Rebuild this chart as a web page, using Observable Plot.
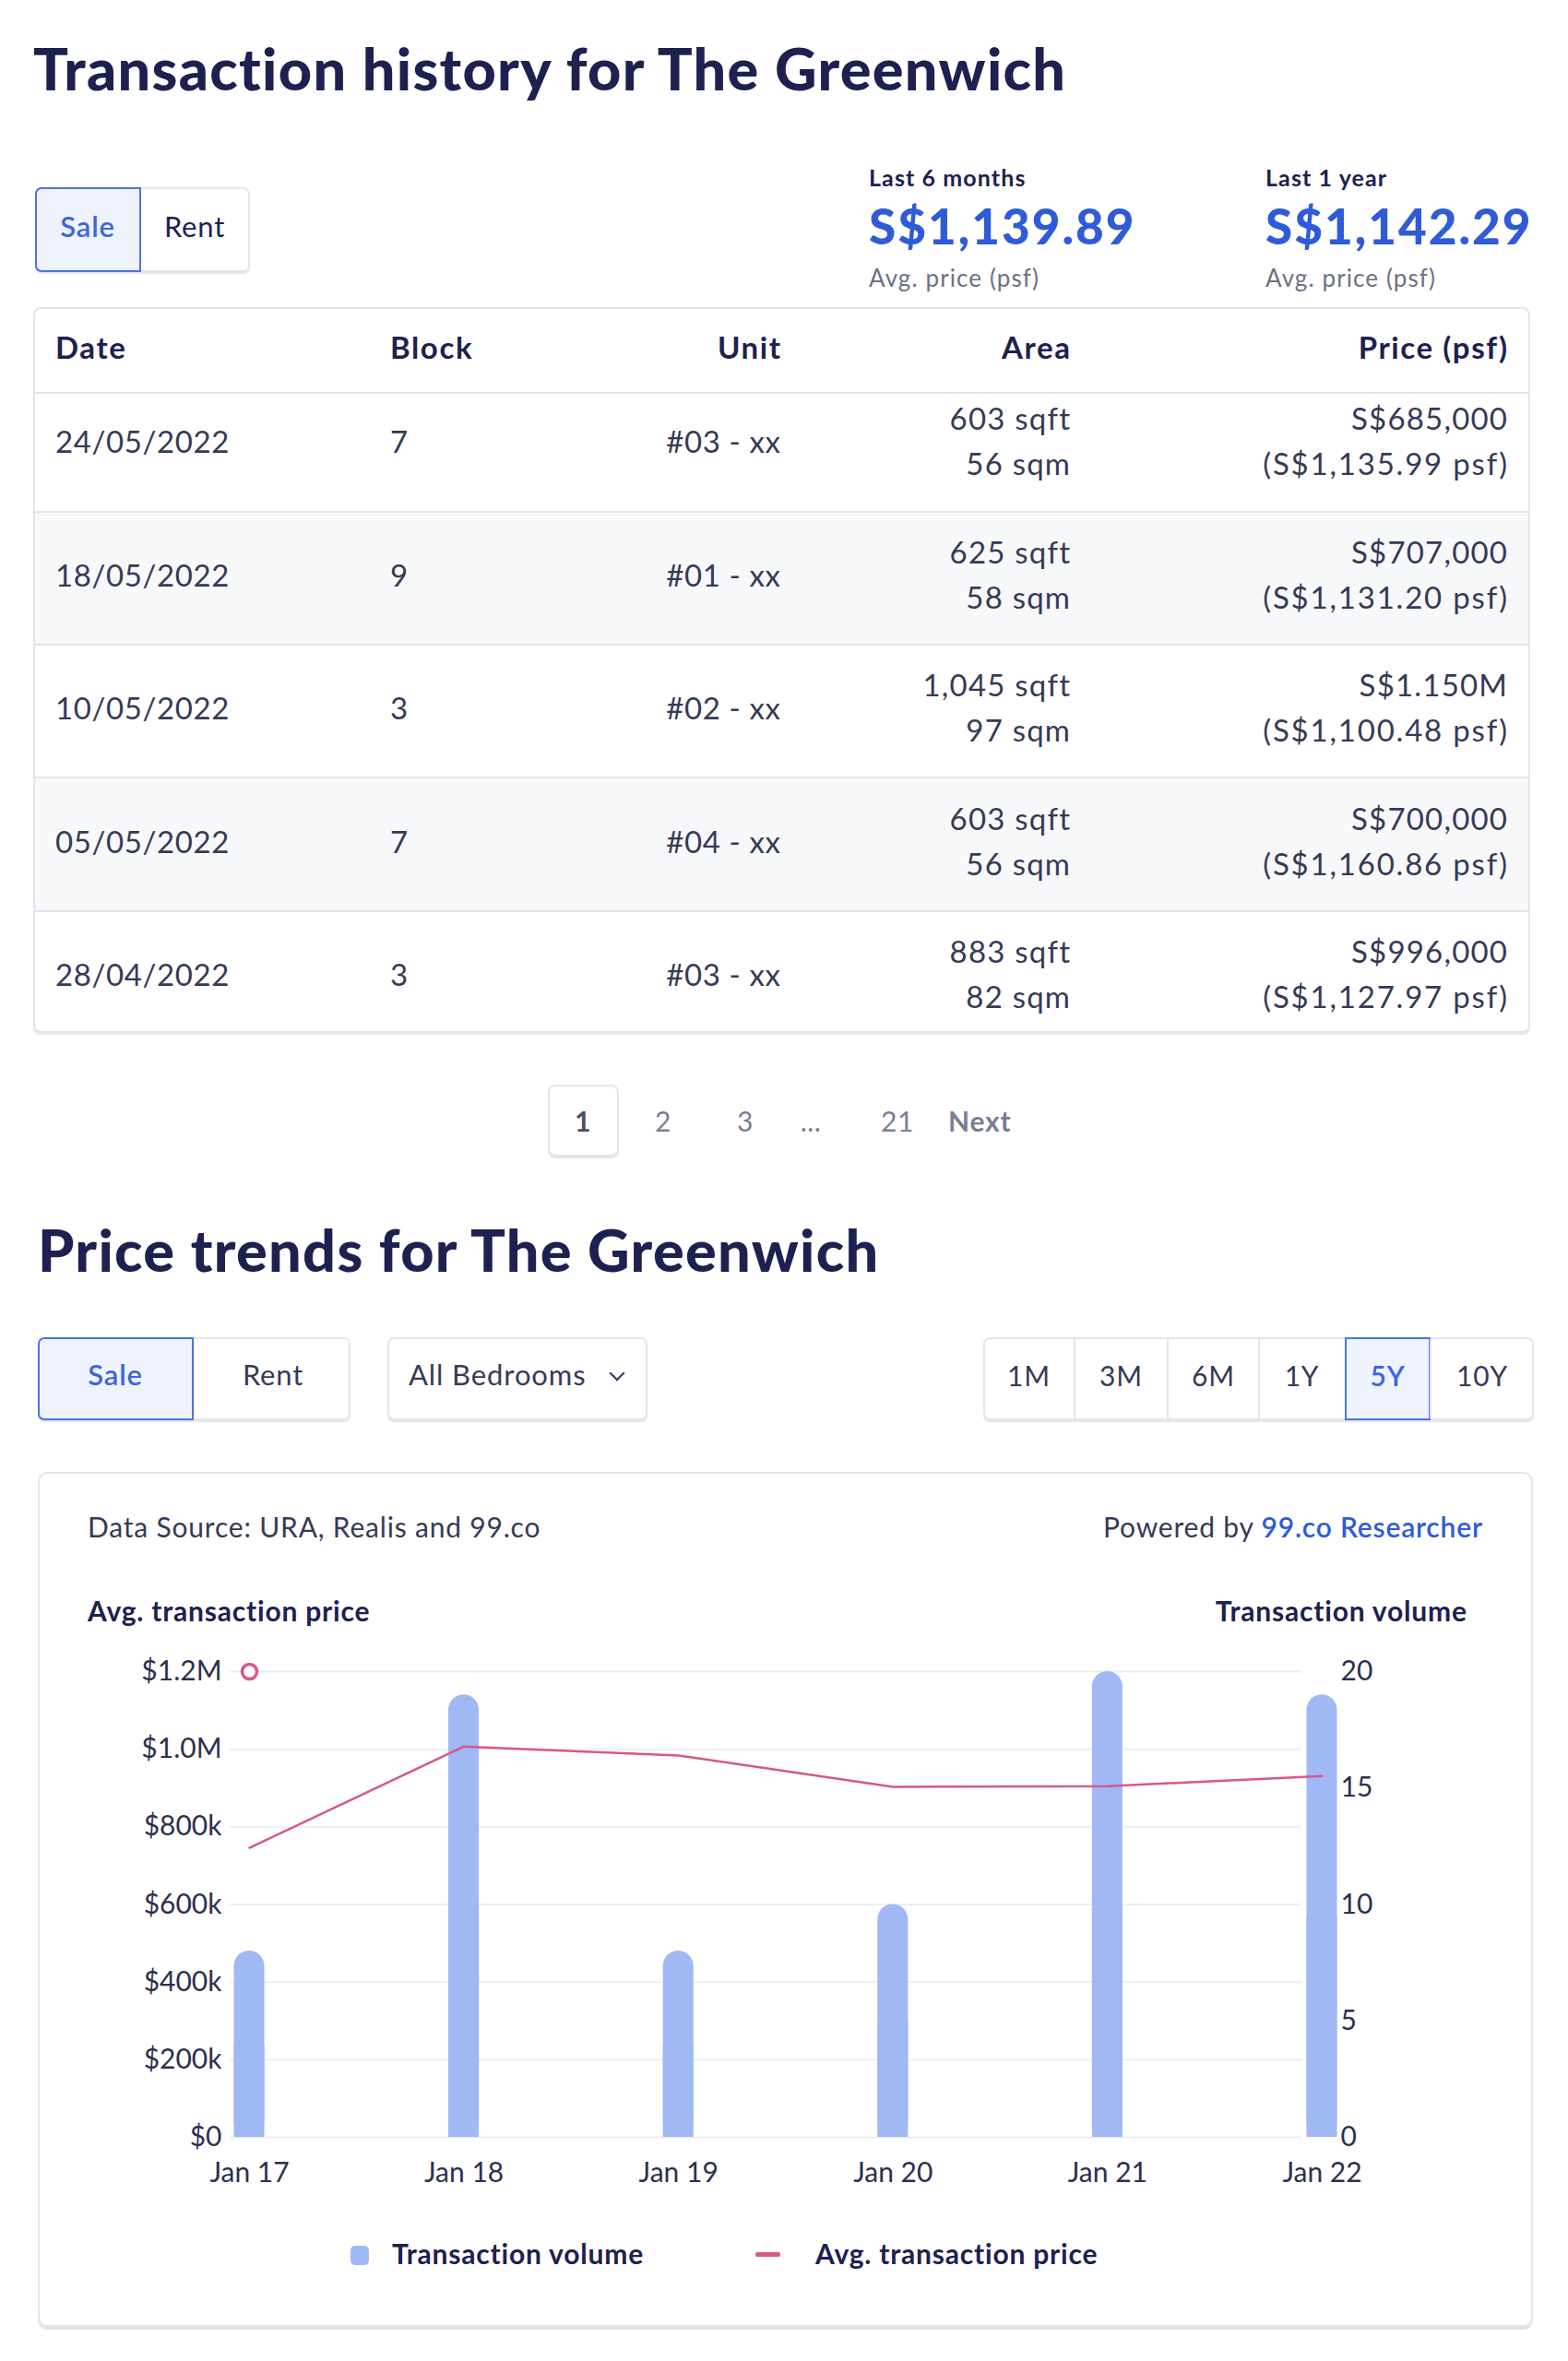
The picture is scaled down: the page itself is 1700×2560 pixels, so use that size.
<!DOCTYPE html>
<html><head><meta charset="utf-8">
<script src="https://cdn.jsdelivr.net/npm/d3@7"></script>
<script src="https://cdn.jsdelivr.net/npm/@observablehq/plot@0.6"></script>
<style>
html,body{margin:0;padding:0;background:#fff;}
body{font-family:Lato,"Noto Sans",sans-serif;color:#1d2150;}
#page{position:relative;width:1700px;height:2560px;overflow:hidden;background:#fff;}
.abs{position:absolute;white-space:nowrap;line-height:1.2;}
.box{position:absolute;box-sizing:border-box;}
</style></head>
<body><div id="page"></div>
<script>
// ---------------- data ----------------
const pageTitle = "Transaction history for The Greenwich";
const trendTitle = "Price trends for The Greenwich";
const statLabels = ["Last 6 months", "Last 1 year"];
const statValues = ["S$1,139.89", "S$1,142.29"];
const statSub = "Avg. price (psf)";
const tableHeaders = ["Date", "Block", "Unit", "Area", "Price (psf)"];
const txDates = ["24/05/2022", "18/05/2022", "10/05/2022", "05/05/2022", "28/04/2022"];
const txBlocks = ["7", "9", "3", "7", "3"];
const txUnits = ["#03 - xx", "#01 - xx", "#02 - xx", "#04 - xx", "#03 - xx"];
const txSqft = ["603 sqft", "625 sqft", "1,045 sqft", "603 sqft", "883 sqft"];
const txSqm = ["56 sqm", "58 sqm", "97 sqm", "56 sqm", "82 sqm"];
const txPrices = ["S$685,000", "S$707,000", "S$1.150M", "S$700,000", "S$996,000"];
const txPsf = ["(S$1,135.99 psf)", "(S$1,131.20 psf)", "(S$1,100.48 psf)", "(S$1,160.86 psf)", "(S$1,127.97 psf)"];
const pages = ["1", "2", "3", "...", "21"];
const periodButtons = ["1M", "3M", "6M", "1Y", "5Y", "10Y"];
const periods = ["Jan 17", "Jan 18", "Jan 19", "Jan 20", "Jan 21", "Jan 22"];
const volume = [8, 19, 8, 10, 20, 19];
const avgPrice = [746000, 1007000, 984000, 903000, 905000, 931000];
const priceTicks = [0, 200000, 400000, 600000, 800000, 1000000, 1200000];
const priceTickLabels = ["$0", "$200k", "$400k", "$600k", "$800k", "$1.0M", "$1.2M"];
const volumeTicks = [0, 5, 10, 15, 20];
const volumeMax = 20, priceMax = 1200000;
const marker = [{period: "Jan 17", price: 1200000}];

// ---------------- colours ----------------
const NAVY = "#1d2150", TEXT = "#363a57", BLUE = "#2f5bd9", GREY = "#7a7e95",
      BORDER = "#e3e5e9", BAR = "#a0b8f4", PINK = "#d6588a", SELFILL = "#eef3fd", SELBORDER = "#4a74e0";

const page = document.getElementById("page");
function txt(x, base, s, o = {}) {
  const F = o.size || 30;
  const d = document.createElement("div");
  d.className = "abs";
  d.style.left = x + "px";
  d.style.top = (base - 0.987 * F) + "px";
  d.style.fontSize = F + "px";
  d.style.fontWeight = o.weight || 400;
  d.style.color = o.color || TEXT;
  d.style.letterSpacing = (o.ls != null ? o.ls : 0.8) + "px";
  if (o.anchor === "end") { d.style.transform = "translateX(-100%)"; d.style.marginLeft = (o.ls != null ? o.ls : 0.8) + "px"; }
  if (o.anchor === "middle") d.style.transform = "translateX(-50%)";
  if (o.html) d.innerHTML = s; else d.textContent = s;
  page.appendChild(d);
  return d;
}
function box(x, y, w, h, css) {
  const d = document.createElement("div");
  d.className = "box";
  Object.assign(d.style, {left: x + "px", top: y + "px", width: w + "px", height: h + "px"}, css);
  page.appendChild(d);
  return d;
}

// ---------------- header section ----------------
txt(36, 98, pageTitle, {size: 63, weight: 900, color: NAVY, ls: 1.3});

// sale / rent toggle
box(38, 203, 233, 92, {border: `2px solid ${BORDER}`, borderRadius: "7px", boxShadow: "0 2px 0 #e6e7ea"});
box(38, 203, 115, 92, {border: `2px solid ${SELBORDER}`, background: SELFILL, borderRadius: "7px 0 0 7px"});
txt(95, 258, "Sale", {size: 31, weight: 600, color: "#3d66dd", anchor: "middle"});
txt(211, 258, "Rent", {size: 31, color: NAVY, anchor: "middle"});

// stats
[942, 1372].forEach((x, i) => {
  txt(x, 202, statLabels[i], {size: 25, weight: 700, color: NAVY, ls: 1.1});
  txt(x, 265, statValues[i], {size: 53, weight: 900, color: BLUE, ls: 2});
  txt(x, 312, statSub, {size: 26, color: "#6d7086", ls: 1.1});
});

// ---------------- table ----------------
const rowTops = [426, 555, 699, 843, 988, 1120];
const rowCenters = [480, 625, 769, 914, 1058];
box(36, 333, 1623, 787, {border: `2px solid ${BORDER}`, borderRadius: "8px", boxShadow: "0 2px 0 #e6e7ea"});
for (let i = 0; i < 5; i++) {
  if (i % 2 === 1) box(38, rowTops[i], 1619, rowTops[i + 1] - rowTops[i], {background: "#f7f8fa"});
  box(38, rowTops[i] - 1, 1619, 2, {background: BORDER});
}
const hdrX = [60, 423, 846, 1160, 1634];
const hdrA = ["start", "start", "end", "end", "end"];
tableHeaders.forEach((h, j) => txt(hdrX[j], 390, h, {size: 33, weight: 700, color: NAVY, anchor: hdrA[j], ls: 1.6}));
const B = {size: 33, ls: 1.2};
for (let i = 0; i < 5; i++) {
  const c = rowCenters[i];
  txt(60, c + 12, txDates[i], {...B, ls: 0.6});
  txt(423, c + 12, txBlocks[i], B);
  txt(846, c + 12, txUnits[i], {...B, ls: 0.6, anchor: "end"});
  txt(1160, c - 13, txSqft[i], {...B, anchor: "end"});
  txt(1160, c + 36, txSqm[i], {...B, anchor: "end"});
  txt(1634, c - 13, txPrices[i], {...B, anchor: "end"});
  txt(1634, c + 36, txPsf[i], {...B, ls: 1.8, anchor: "end"});
}

// ---------------- pagination ----------------
box(594, 1176, 77, 78, {border: `2px solid ${BORDER}`, borderRadius: "8px", boxShadow: "0 2px 0 #e6e7ea"});
const pageX = [632, 719, 808, 879, 973];
pages.forEach((p, i) => txt(pageX[i], 1227, p, {size: 30, weight: i === 0 ? 700 : 400, color: i === 0 ? "#4a4e66" : GREY, anchor: "middle", ls: 0.5}));
txt(1028, 1227, "Next", {size: 30, weight: 700, color: GREY, ls: 0.8});

// ---------------- price trends header ----------------
txt(41, 1379, trendTitle, {size: 63, weight: 900, color: NAVY, ls: 1.3});

box(41, 1450, 339, 90, {border: `2px solid ${BORDER}`, borderRadius: "7px", boxShadow: "0 2px 0 #e6e7ea"});
box(41, 1450, 169, 90, {border: `2px solid ${SELBORDER}`, background: SELFILL, borderRadius: "7px 0 0 7px"});
txt(125, 1503, "Sale", {size: 31, weight: 600, color: "#3d66dd", anchor: "middle"});
txt(296, 1503, "Rent", {size: 31, color: TEXT, anchor: "middle"});

box(420, 1450, 282, 90, {border: `2px solid ${BORDER}`, borderRadius: "7px", boxShadow: "0 2px 0 #e6e7ea"});
txt(443, 1503, "All Bedrooms", {size: 31, color: TEXT, ls: 0.9});
box(663, 1483, 12, 12, {borderRight: `2.5px solid ${TEXT}`, borderBottom: `2.5px solid ${TEXT}`, transform: "rotate(45deg)"});

const perEdges = [1066, 1165, 1266, 1365, 1458, 1551, 1663];
box(1066, 1450, 597, 90, {border: `2px solid ${BORDER}`, borderRadius: "7px", boxShadow: "0 2px 0 #e6e7ea"});
periodButtons.forEach((p, i) => {
  const x0 = perEdges[i], x1 = perEdges[i + 1];
  if (i > 0 && i !== 4) box(x0 - 1, 1452, 2, 86, {background: BORDER});
  if (p === "5Y") box(x0, 1450, x1 - x0, 90, {border: `2px solid ${SELBORDER}`, background: SELFILL});
  txt((x0 + x1) / 2, 1503, p, {size: 30, weight: p === "5Y" ? 600 : 400, color: p === "5Y" ? "#3d66dd" : TEXT, anchor: "middle"});
});

// ---------------- chart card ----------------
box(41, 1596, 1621, 927, {border: `2px solid ${BORDER}`, borderRadius: "10px", boxShadow: "0 3px 0 #e2e3e6"});
txt(95, 1667, "Data Source: URA, Realis and 99.co", {size: 30, color: TEXT});
txt(1607, 1667, `Powered by <span style="color:${BLUE};font-weight:600">99.co Researcher</span>`, {size: 30, color: TEXT, anchor: "end", html: true});
txt(95, 1758, "Avg. transaction price", {size: 30, weight: 700, color: NAVY});
txt(1590, 1758, "Transaction volume", {size: 30, weight: 700, color: NAVY, anchor: "end"});

// legend
box(380, 2435, 20, 21, {background: BAR, borderRadius: "5px"});
txt(425, 2455, "Transaction volume", {size: 30, weight: 700, color: NAVY});
box(819, 2442, 27, 5, {background: PINK, borderRadius: "2px"});
txt(884, 2455, "Avg. transaction price", {size: 30, weight: 700, color: NAVY});

// ---------------- Plot chart ----------------
const rows = periods.map((p, i) => ({period: p, volume: volume[i], price: avgPrice[i]}));
const toPrice = v => v * priceMax / volumeMax;
const svgTop = 1780, zeroY = 2317, topY = 1812;
const step = 232.6, barW = 33, inset = (step - barW) / 2;
const chart = Plot.plot({
  width: 1700,
  height: zeroY - svgTop + 60,
  marginTop: topY - svgTop,
  marginBottom: 60,
  marginLeft: 249,
  marginRight: 1700 - 1411,
  style: {fontFamily: "Lato, sans-serif", color: "#2c3050", background: "transparent", overflow: "visible"},
  x: {type: "band", domain: periods, range: [270 - step / 2, 1433 + step / 2], padding: 0, round: false},
  y: {domain: [0, priceMax]},
  marks: [
    Plot.ruleY(priceTicks, {stroke: "#eceef1", strokeWidth: 2}),
    Plot.barY(rows, {x: "period", y: d => toPrice(d.volume), fill: BAR, insetLeft: inset, insetRight: inset, rx: barW / 2}),
    Plot.barY(rows, {x: "period", y: d => toPrice(d.volume) / 2, fill: BAR, insetLeft: inset, insetRight: inset}),
    Plot.lineY(rows, {x: "period", y: "price", stroke: PINK, strokeWidth: 2.5}),
    Plot.dot(marker, {x: "period", y: "price", r: 8, stroke: PINK, strokeWidth: 3.5, fill: "white"}),
    Plot.axisY(priceTicks, {anchor: "left", tickSize: 0, tickPadding: 9, fontSize: 30, label: null,
      tickFormat: d => priceTickLabels[priceTicks.indexOf(d)]}),
    Plot.axisY(volumeTicks.map(toPrice), {anchor: "right", tickSize: 0, tickPadding: 42, fontSize: 30, label: null,
      tickFormat: d => String(Math.round(d * volumeMax / priceMax))}),
    Plot.axisX({tickSize: 0, tickPadding: 27, fontSize: 30, label: null})
  ]
});
const holder = document.createElement("div");
holder.style.position = "absolute";
holder.style.left = "0px";
holder.style.top = svgTop + "px";
holder.appendChild(chart);
page.appendChild(holder);
</script>
</body></html>
